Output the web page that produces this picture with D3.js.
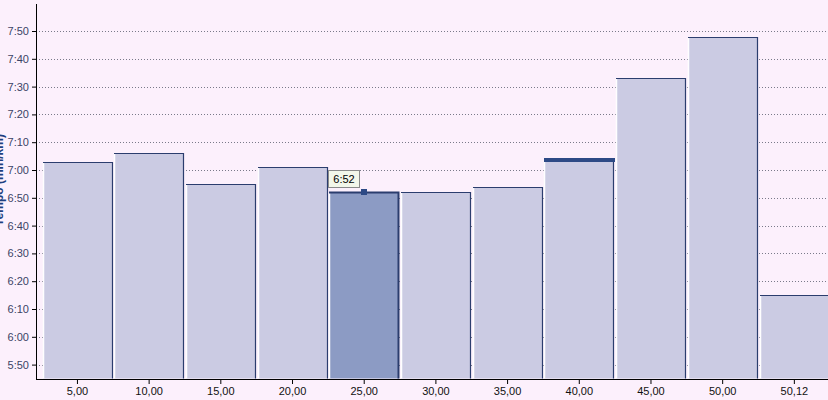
<!DOCTYPE html>
<html>
<head>
<meta charset="utf-8">
<script src="https://cdn.jsdelivr.net/npm/d3@7"></script>
<style>
  body { margin: 0; background: #fcf0fc; }
  svg { display: block; font-family: "Liberation Sans", Arial, sans-serif; }
</style>
</head>
<body>
<svg id="chart"></svg>
<script>
// Split labels (km) and pace per split
var splits = ["5,00", "10,00", "15,00", "20,00", "25,00", "30,00", "35,00", "40,00", "45,00", "50,00", "50,12"];
var paces = ["7:03", "7:06", "6:55", "7:01", "6:52", "6:52", "6:54", "7:04", "7:33", "7:48", "6:15"];
var yTicks = ["5:50", "6:00", "6:10", "6:20", "6:30", "6:40", "6:50", "7:00", "7:10", "7:20", "7:30", "7:40", "7:50"];
var selected = "25,00";   // bar with tooltip
var hovered = "40,00";    // bar with thick top edge

function toSec(s) { var p = s.split(":"); return +p[0] * 60 + +p[1]; }
function fmt(v) { var m = Math.floor(v / 60), s = v % 60; return m + ":" + (s < 10 ? "0" : "") + s; }

var data = splits.map(function(d, i) { return {km: d, sec: toSec(paces[i])}; });

const width = 828, height = 400;
var axisX = 36;

var svg = d3.select("#chart")
    .attr("width", width)
    .attr("height", height);

svg.append("rect").attr("width", width).attr("height", height).attr("fill", "#fcf0fc");

var x = d3.scaleBand().domain(splits).range([41.6, 830.2]).paddingInner(0);
var y = d3.scaleLinear().domain([345, 480]).range([378.5, 3.2]);

// Gridlines
svg.append("g").selectAll("line")
    .data(yTicks.map(toSec))
    .enter().append("line")
    .attr("x1", axisX).attr("x2", width)
    .attr("y1", function(d) { return Math.round(y(d)) + 0.5; })
    .attr("y2", function(d) { return Math.round(y(d)) + 0.5; })
    .attr("stroke", "#7a7a8a")
    .attr("stroke-dasharray", "1,2");

// Bars
var bars = svg.append("g").selectAll("g.bar")
    .data(data)
    .enter().append("g").attr("class", "bar");

bars.append("rect")
    .attr("x", function(d) { return Math.round(x(d.km)) + 1; })
    .attr("y", function(d) { return Math.round(y(d.sec)); })
    .attr("width", function(d) { return Math.round(x.bandwidth()) - 2; })
    .attr("height", function(d) { return y(345) - Math.round(y(d.sec)); })
    .attr("fill", function(d) { return d.km == selected ? "#8c9bc4" : "#cbcbe3"; });

// light left edge
bars.append("line")
    .attr("x1", function(d) { return Math.round(x(d.km)) + 1.5; })
    .attr("x2", function(d) { return Math.round(x(d.km)) + 1.5; })
    .attr("y1", function(d) { return Math.round(y(d.sec)) + 1; })
    .attr("y2", y(345))
    .attr("stroke", "#fefeff").attr("stroke-width", 1.5);

// dark top and right edge
bars.append("path")
    .attr("d", function(d) {
      var x0 = Math.round(x(d.km)) + 1, x1 = x0 + Math.round(x.bandwidth()) - 2, t = Math.round(y(d.sec)) + 0.5;
      return "M" + x0 + "," + t + "H" + (x1 - 0.5) + "V" + y(345);
    })
    .attr("fill", "none")
    .attr("stroke", "#2b3d6e")
    .attr("stroke-width", function(d) { return d.km == selected ? 2 : 1.2; });

// thick top on hovered bar
bars.filter(function(d) { return d.km == hovered; })
    .append("rect")
    .attr("x", function(d) { return Math.round(x(d.km)) + 1; })
    .attr("y", function(d) { return Math.round(y(d.sec)) - 1; })
    .attr("width", Math.round(x.bandwidth()) - 1)
    .attr("height", 4)
    .attr("fill", "#2d4a86");

// Axes
var yAxis = d3.axisLeft(y).tickValues(yTicks.map(toSec)).tickFormat(fmt).tickSize(4).tickPadding(3);
var gy = svg.append("g").attr("transform", "translate(" + axisX + ",0)").call(yAxis);
gy.select(".domain").remove();
gy.append("line").attr("x1", 0.5).attr("x2", 0.5).attr("y1", 4).attr("y2", 379).attr("stroke", "#000");
gy.selectAll("text").attr("font-size", 11).attr("fill", "#3a4466")
    .attr("font-family", "'Liberation Sans', Arial, sans-serif");
gy.selectAll(".tick line").attr("stroke", "#000");

var xAxis = d3.axisBottom(x).tickSize(5).tickPadding(3);
var gx = svg.append("g").attr("transform", "translate(0," + Math.round(y(345)) + ")").call(xAxis);
gx.select(".domain").remove();
gx.append("line").attr("x1", axisX).attr("x2", width).attr("y1", 0.5).attr("y2", 0.5).attr("stroke", "#000");
gx.selectAll("text").attr("font-size", 11).attr("fill", "#111")
    .attr("font-family", "'Liberation Sans', Arial, sans-serif");
gx.selectAll(".tick line").attr("stroke", "#000");

// Y title (cut off at left edge like the original)
svg.append("text")
    .attr("transform", "translate(3,180) rotate(-90)")
    .attr("text-anchor", "middle")
    .attr("font-size", 12)
    .attr("font-weight", "bold")
    .attr("fill", "#1f3f7f")
    .text("Tempo (min/km)");

// Marker and tooltip on the selected bar
var sel = data.find(function(d) { return d.km == selected; });
var mx = Math.round(x(sel.km) + x.bandwidth() / 2), my = Math.round(y(sel.sec));
svg.append("rect")
    .attr("x", mx - 3).attr("y", my - 3).attr("width", 6).attr("height", 6)
    .attr("fill", "#2d4a86");
var tip = svg.append("g").attr("transform", "translate(" + (mx - 35.5) + "," + (my - 21.5) + ")");
tip.append("rect").attr("width", 31).attr("height", 17)
    .attr("fill", "#f3f7ea").attr("stroke", "#8a8a8a");
tip.append("text").attr("x", 15.5).attr("y", 12.5)
    .attr("text-anchor", "middle").attr("font-size", 11).attr("fill", "#000")
    .text(fmt(sel.sec));
</script>
</body>
</html>
